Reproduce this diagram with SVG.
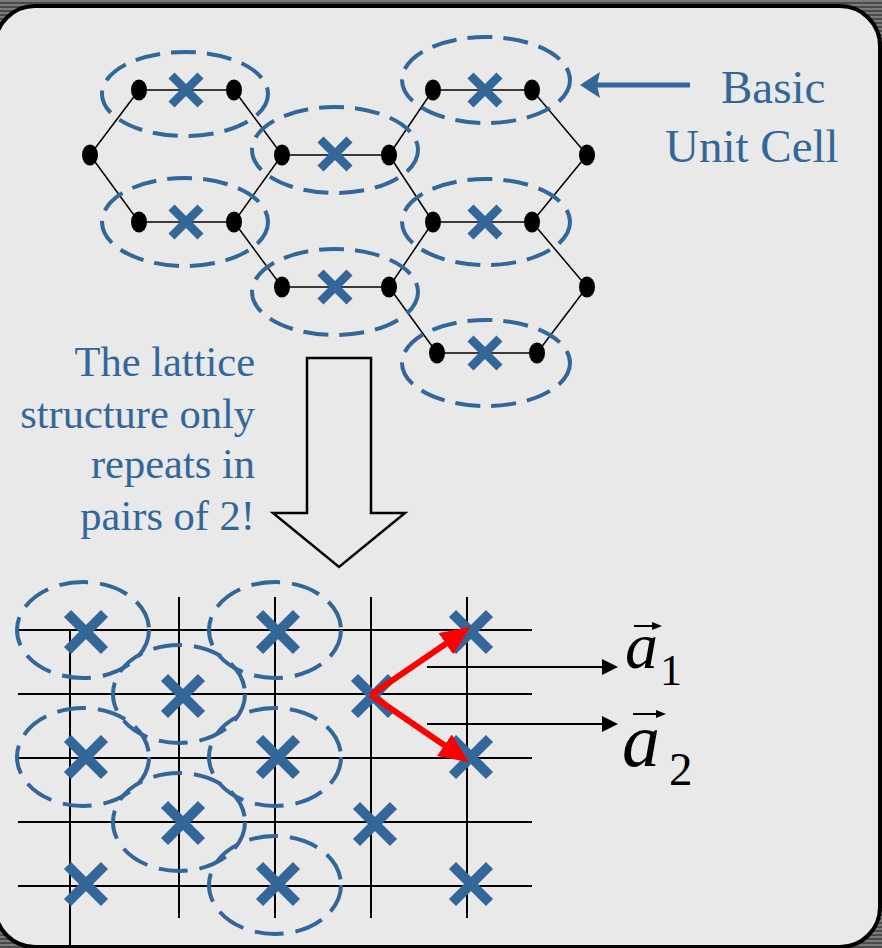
<svg xmlns="http://www.w3.org/2000/svg" xmlns:xlink="http://www.w3.org/1999/xlink" width="882" height="948" viewBox="0 0 882 948">
<style>
.edge{stroke:#000;stroke-width:1.5;fill:none}
.node{fill:#000}
.cell{fill:none;stroke:#336699;stroke-width:4;stroke-dasharray:25 11}
.cell2{fill:none;stroke:#336699;stroke-width:4;stroke-dasharray:29 12}
.grid{stroke:#000;stroke-width:2;fill:none}
.lbl{font-family:"Liberation Serif","Times New Roman",serif;fill:#336699}
.math{font-family:"Liberation Serif","Times New Roman",serif;fill:#000}
</style>
<defs>
<pattern id="stripes" width="4" height="4" patternUnits="userSpaceOnUse">
<rect width="4" height="4" fill="#4a4a4a"/><rect width="4" height="2" fill="#7a7a7a"/>
</pattern>
<path id="xs" d="M-14.5,-14.5 L14.5,14.5 M14.5,-14.5 L-14.5,14.5" stroke="#336699" stroke-width="8.5" fill="none"/>
<path id="xb" d="M-18.5,-18.5 L18.5,18.5 M18.5,-18.5 L-18.5,18.5" stroke="#336699" stroke-width="10" fill="none"/>
<marker id="redhead" markerUnits="userSpaceOnUse" markerWidth="30" markerHeight="26" refX="19" refY="13" orient="auto"><path d="M0,0 L30,13 L0,26 z" fill="#ff0000"/></marker>
<marker id="blkhead" markerUnits="userSpaceOnUse" markerWidth="16" markerHeight="16" refX="10" refY="8" orient="auto"><path d="M0,0 L16,8 L0,16 z" fill="#000"/></marker>
<marker id="vechead" markerUnits="userSpaceOnUse" markerWidth="10" markerHeight="8" refX="6" refY="4" orient="auto"><path d="M0,0 L10,4 L0,8 z" fill="#000"/></marker>
</defs>
<rect width="882" height="948" fill="url(#stripes)"/>
<rect x="-5" y="6" width="885" height="941" rx="40" ry="40" fill="#e9e9e9" stroke="#000" stroke-width="4"/>

<g id="connectors">
<g id="hex-edges">
<line class="edge" x1="139" y1="90" x2="234" y2="90"/>
<line class="edge" x1="139" y1="90" x2="90" y2="155"/>
<line class="edge" x1="90" y1="155" x2="139" y2="222"/>
<line class="edge" x1="139" y1="222" x2="234" y2="222"/>
<line class="edge" x1="234" y1="90" x2="282" y2="155"/>
<line class="edge" x1="234" y1="222" x2="282" y2="155"/>
<line class="edge" x1="234" y1="222" x2="282" y2="287"/>
<line class="edge" x1="282" y1="155" x2="389" y2="155"/>
<line class="edge" x1="389" y1="155" x2="433" y2="90"/>
<line class="edge" x1="389" y1="155" x2="433" y2="222"/>
<line class="edge" x1="433" y1="90" x2="532" y2="90"/>
<line class="edge" x1="532" y1="90" x2="587" y2="155"/>
<line class="edge" x1="587" y1="155" x2="532" y2="222"/>
<line class="edge" x1="433" y1="222" x2="532" y2="222"/>
<line class="edge" x1="282" y1="287" x2="389" y2="287"/>
<line class="edge" x1="389" y1="287" x2="433" y2="222"/>
<line class="edge" x1="389" y1="287" x2="437" y2="353"/>
<line class="edge" x1="437" y1="353" x2="537" y2="353"/>
<line class="edge" x1="537" y1="353" x2="587" y2="287"/>
<line class="edge" x1="587" y1="287" x2="532" y2="222"/>
</g>
<g id="unit-arrow">
<line x1="690" y1="85" x2="596" y2="85" stroke="#336699" stroke-width="5"/>
<path d="M580,85 L600,72 L597,85 L600,98 Z" fill="#336699"/>
</g>
<path id="big-arrow" d="M307,358 L371,358 L371,513 L405,513 L339,567 L273,513 L307,513 Z" fill="#e9e9e9" stroke="#000" stroke-width="2.5"/>
<g id="grid">
<line class="grid" x1="18" y1="630" x2="532" y2="630"/>
<line class="grid" x1="18" y1="694" x2="532" y2="694"/>
<line class="grid" x1="18" y1="758" x2="532" y2="758"/>
<line class="grid" x1="18" y1="822" x2="532" y2="822"/>
<line class="grid" x1="18" y1="886" x2="532" y2="886"/>
<line class="grid" x1="70" y1="630" x2="70" y2="948"/>
<line class="grid" x1="179" y1="597" x2="179" y2="918"/>
<line class="grid" x1="275" y1="597" x2="275" y2="918"/>
<line class="grid" x1="371" y1="597" x2="371" y2="918"/>
<line class="grid" x1="467" y1="597" x2="467" y2="918"/>
</g>
<line x1="427" y1="667" x2="612" y2="667" stroke="#000" stroke-width="2" marker-end="url(#blkhead)"/>
<line x1="427" y1="724" x2="612" y2="724" stroke="#000" stroke-width="2" marker-end="url(#blkhead)"/>
</g>

<g id="hex-nodes">
<ellipse class="node" cx="139" cy="90" rx="8" ry="10.5"/>
<ellipse class="node" cx="234" cy="90" rx="8" ry="10.5"/>
<ellipse class="node" cx="90" cy="155" rx="8" ry="10.5"/>
<ellipse class="node" cx="282" cy="155" rx="8" ry="10.5"/>
<ellipse class="node" cx="139" cy="222" rx="8" ry="10.5"/>
<ellipse class="node" cx="234" cy="222" rx="8" ry="10.5"/>
<ellipse class="node" cx="389" cy="155" rx="8" ry="10.5"/>
<ellipse class="node" cx="433" cy="90" rx="8" ry="10.5"/>
<ellipse class="node" cx="532" cy="90" rx="8" ry="10.5"/>
<ellipse class="node" cx="587" cy="155" rx="8" ry="10.5"/>
<ellipse class="node" cx="433" cy="222" rx="8" ry="10.5"/>
<ellipse class="node" cx="532" cy="222" rx="8" ry="10.5"/>
<ellipse class="node" cx="282" cy="287" rx="8" ry="10.5"/>
<ellipse class="node" cx="389" cy="287" rx="8" ry="10.5"/>
<ellipse class="node" cx="587" cy="287" rx="8" ry="10.5"/>
<ellipse class="node" cx="437" cy="353" rx="8" ry="10.5"/>
<ellipse class="node" cx="537" cy="353" rx="8" ry="10.5"/>
</g>

<g id="cell-1"><ellipse class="cell" cx="185" cy="94" rx="83" ry="42"/><use href="#xs" x="186" y="90"/></g>
<g id="cell-2"><ellipse class="cell" cx="185" cy="222" rx="83" ry="44"/><use href="#xs" x="186" y="222"/></g>
<g id="cell-3"><ellipse class="cell" cx="335" cy="150" rx="83" ry="43"/><use href="#xs" x="335" y="154"/></g>
<g id="cell-4"><ellipse class="cell" cx="335" cy="292" rx="83" ry="43"/><use href="#xs" x="335" y="287"/></g>
<g id="cell-5"><ellipse class="cell" cx="486" cy="80" rx="84" ry="43"/><use href="#xs" x="485" y="90"/></g>
<g id="cell-6"><ellipse class="cell" cx="486" cy="222" rx="84" ry="43"/><use href="#xs" x="485" y="222"/></g>
<g id="cell-7"><ellipse class="cell" cx="486" cy="363" rx="84" ry="43"/><use href="#xs" x="485" y="353"/></g>

<g id="label-unit-cell" class="lbl" font-size="47">
<text x="721" y="103">Basic</text>
<text x="665" y="162">Unit Cell</text>
</g>
<g id="label-lattice" class="lbl" font-size="42.5" text-anchor="end">
<text x="255" y="376">The lattice</text>
<text x="255" y="428">structure only</text>
<text x="255" y="478">repeats in</text>
<text x="255" y="530">pairs of 2!</text>
</g>

<g id="bottom-cells">
<ellipse class="cell2" cx="83" cy="630" rx="66" ry="48"/>
<ellipse class="cell2" cx="179" cy="694" rx="66" ry="49"/>
<ellipse class="cell2" cx="83" cy="757" rx="66" ry="49"/>
<ellipse class="cell2" cx="179" cy="822" rx="66" ry="49"/>
<ellipse class="cell2" cx="275" cy="630" rx="66" ry="48"/>
<ellipse class="cell2" cx="275" cy="757" rx="66" ry="49"/>
<ellipse class="cell2" cx="275" cy="885" rx="66" ry="49"/>
</g>
<g id="bottom-sites">
<use href="#xb" x="86" y="632"/>
<use href="#xb" x="86" y="757"/>
<use href="#xb" x="86" y="884"/>
<use href="#xb" x="183" y="696"/>
<use href="#xb" x="183" y="823"/>
<use href="#xb" x="278" y="632"/>
<use href="#xb" x="278" y="757"/>
<use href="#xb" x="278" y="884"/>
<use href="#xb" x="373" y="696"/>
<use href="#xb" x="375" y="824"/>
<use href="#xb" x="471" y="632"/>
<use href="#xb" x="471" y="757"/>
<use href="#xb" x="471" y="884"/>
</g>
<g id="vectors">
<line x1="371" y1="695" x2="461.5" y2="633" stroke="#ff0000" stroke-width="6" marker-end="url(#redhead)"/>
<line x1="371" y1="695" x2="460" y2="756" stroke="#ff0000" stroke-width="6" marker-end="url(#redhead)"/>
</g>
<g id="label-a1">
<line x1="634" y1="626" x2="658" y2="626" stroke="#000" stroke-width="2" marker-end="url(#vechead)"/>
<text class="math" x="625" y="668" font-size="66" font-style="italic">a</text>
<text class="math" x="660" y="685" font-size="44">1</text>
</g>
<g id="label-a2">
<line x1="633" y1="714" x2="662" y2="714" stroke="#000" stroke-width="2" marker-end="url(#vechead)"/>
<text class="math" x="622" y="766" font-size="76" font-style="italic">a</text>
<text class="math" x="669" y="785" font-size="47">2</text>
</g>
</svg>
